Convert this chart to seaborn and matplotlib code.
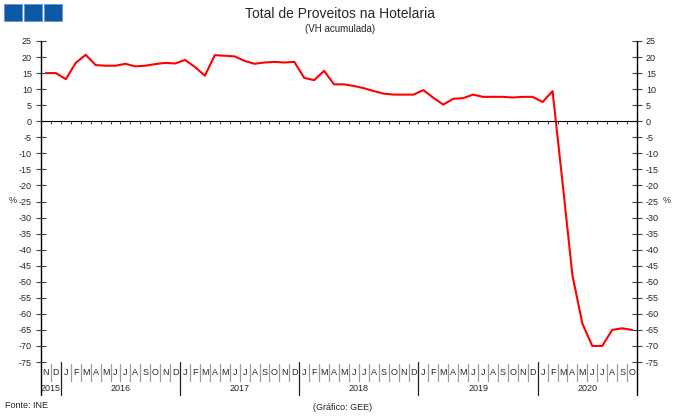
import numpy as np
import pandas as pd
import matplotlib
matplotlib.use("Agg")
import matplotlib.pyplot as plt
import matplotlib.transforms as mtransforms
from matplotlib.patches import Rectangle
import seaborn as sns

# Dados: VH acumulada (%), Nov 2015 - Out 2020
month_labels = (["N", "D"]
                + ["J", "F", "M", "A", "M", "J", "J", "A", "S", "O", "N", "D"] * 4
                + ["J", "F", "M", "A", "M", "J", "J", "A", "S", "O"])
years = ["2015", "2016", "2017", "2018", "2019", "2020"]
months_per_year = [2, 12, 12, 12, 12, 10]
vh_values = [
    15.0, 15.0,
    13.1, 18.2, 20.7, 17.5, 17.3, 17.3, 17.9, 17.1, 17.3, 17.8, 18.2, 18.0,
    19.1, 16.9, 14.2, 20.6, 20.4, 20.2, 18.8, 17.9, 18.3, 18.5, 18.3, 18.5,
    13.5, 12.8, 15.7, 11.5, 11.5, 11.0, 10.3, 9.4, 8.6, 8.3, 8.3, 8.3,
    9.7, 7.3, 5.2, 7.0, 7.2, 8.3, 7.6, 7.6, 7.6, 7.4, 7.6, 7.6,
    6.0, 9.4, -19.0, -48.0, -63.0, -70.0, -70.0, -65.0, -64.5, -65.0,
]
y_ticks = list(range(-75, 30, 5))

sns.set_style("white")
plt.rcParams["font.family"] = ["Liberation Sans", "DejaVu Sans"]

W, H = 680, 416
fig = plt.figure(figsize=(W / 100, H / 100), dpi=100)
ax = fig.add_axes([41 / W, 1 - 362 / H, (637 - 41) / W, (362 - 41) / H])

n = len(vh_values)
df = pd.DataFrame({"pos": np.arange(n) + 0.5, "vh": vh_values})
sns.lineplot(data=df, x="pos", y="vh", color="#ff0000", linewidth=1.5, ax=ax)

ax.set_xlim(0, n)
ax.set_ylim(-75, 25)
ax.set_xlabel("")
ax.set_ylabel("")
ax.set_xticks([])
ax.set_yticks(y_ticks)
ax.set_yticklabels([str(v) for v in y_ticks])
ax.tick_params(axis="y", direction="inout", length=7, width=0.8, color="#444444",
               labelsize=6.5, pad=3, left=True, right=True, labelleft=True, labelright=True)
for s in ax.spines.values():
    s.set_visible(False)

# linha do zero com marcas mensais
ax.axhline(0, color="black", lw=0.8)
ax.vlines(np.arange(1, n), -0.9, 0, color="#333333", lw=0.7)

trans = mtransforms.blended_transform_factory(ax.transData, ax.transAxes)
# eixos verticais prolongados
for xv in (0, n):
    ax.plot([xv, xv], [1, -0.103], transform=trans, color="black", lw=1.0, clip_on=False)

year_starts = np.cumsum([0] + months_per_year)
for k in range(1, n):
    if k in year_starts:
        ax.plot([k, k], [0, -0.103], transform=trans, color="#222222", lw=0.9, clip_on=False)
    else:
        ax.plot([k, k], [-0.006, -0.059], transform=trans, color="#9a9a9a", lw=0.9, clip_on=False)

for i, m in enumerate(month_labels):
    ax.text(i + 0.5, -0.032, m, transform=trans, ha="center", va="center", fontsize=6.5)

for y, s, c in zip(years, year_starts[:-1], months_per_year):
    ax.text(s + c / 2, -0.082, y, transform=trans, ha="center", va="center", fontsize=6.5)

fig.text(13 / W, 1 - 201 / H, "%", ha="center", va="center", fontsize=6.5)
fig.text(667 / W, 1 - 201 / H, "%", ha="center", va="center", fontsize=6.5)

fig.text(340 / W, 1 - 14 / H, "Total de Proveitos na Hotelaria", ha="center", va="center",
         fontsize=10)
fig.text(340 / W, 1 - 29 / H, "(VH acumulada)", ha="center", va="center", fontsize=7)

fig.text(5 / W, 1 - 406 / H, "Fonte: INE", ha="left", va="center", fontsize=6.5)
fig.text(343 / W, 1 - 407 / H, "(Gráfico: GEE)", ha="center", va="center", fontsize=6.5)

for x0 in (4, 24, 44):
    fig.add_artist(Rectangle((x0 / W, 1 - 21 / H), 18 / W, 17 / H, transform=fig.transFigure,
                             facecolor="#0e59a6", edgecolor="#5b8fc8", lw=0.5))

fig.savefig("out.png", dpi=100)
